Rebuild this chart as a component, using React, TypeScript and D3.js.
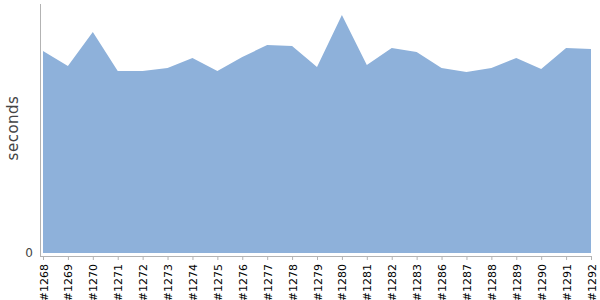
import React from "react";
import * as d3 from "d3";

const builds = ["#1268","#1269","#1270","#1271","#1272","#1273","#1274","#1275","#1276","#1277","#1278","#1279","#1280","#1281","#1282","#1283","#1286","#1287","#1288","#1289","#1290","#1291","#1292"];
const seconds = [202,187,221,182,182,185,195,182,196,208,207,186,238,188,205,201,185,181,185,195,184,205,204];
const yTicks = [0];

export default function App() {
  const W = 600, H = 300;
  const x = d3.scalePoint<string>().domain(builds).range([43, 591]);
  const y = d3.scaleLinear().domain([0, 250]).range([253, 3]);
  const data = builds.map((b, i) => ({ b, v: seconds[i] }));
  const area = d3.area<{ b: string; v: number }>()
    .x(d => x(d.b) as number)
    .y0(y(0))
    .y1(d => y(d.v));
  const axisColor = "#b3b3b3";
  return (
    <svg width={W} height={H} style={{ position: "absolute", left: 0, top: 0, fontFamily: "DejaVu Sans, sans-serif" }}>
      <path d={area(data) || ""} fill="#8eb1da" />
      <line x1={40.5} x2={40.5} y1={4} y2={257} stroke={axisColor} />
      <line x1={40} x2={592} y1={256.5} y2={256.5} stroke={axisColor} />
      {yTicks.map(t => (
        <text key={t} x={33} y={y(t)} dy="0.35em" textAnchor="end" fontSize={12} fill="#444">{t}</text>
      ))}
      {builds.map(b => (
        <g key={b} transform={`translate(${x(b)},0)`}>
          <line x1={0.5} x2={0.5} y1={257} y2={260} stroke={axisColor} />
          <text transform="translate(4.5,264) rotate(-90)" textAnchor="end" fontSize={11} fill="#000">{b}</text>
        </g>
      ))}
      <text transform="translate(18,128) rotate(-90)" textAnchor="middle" fontSize={15} fill="#444" letterSpacing="0.5">seconds</text>
    </svg>
  );
}
